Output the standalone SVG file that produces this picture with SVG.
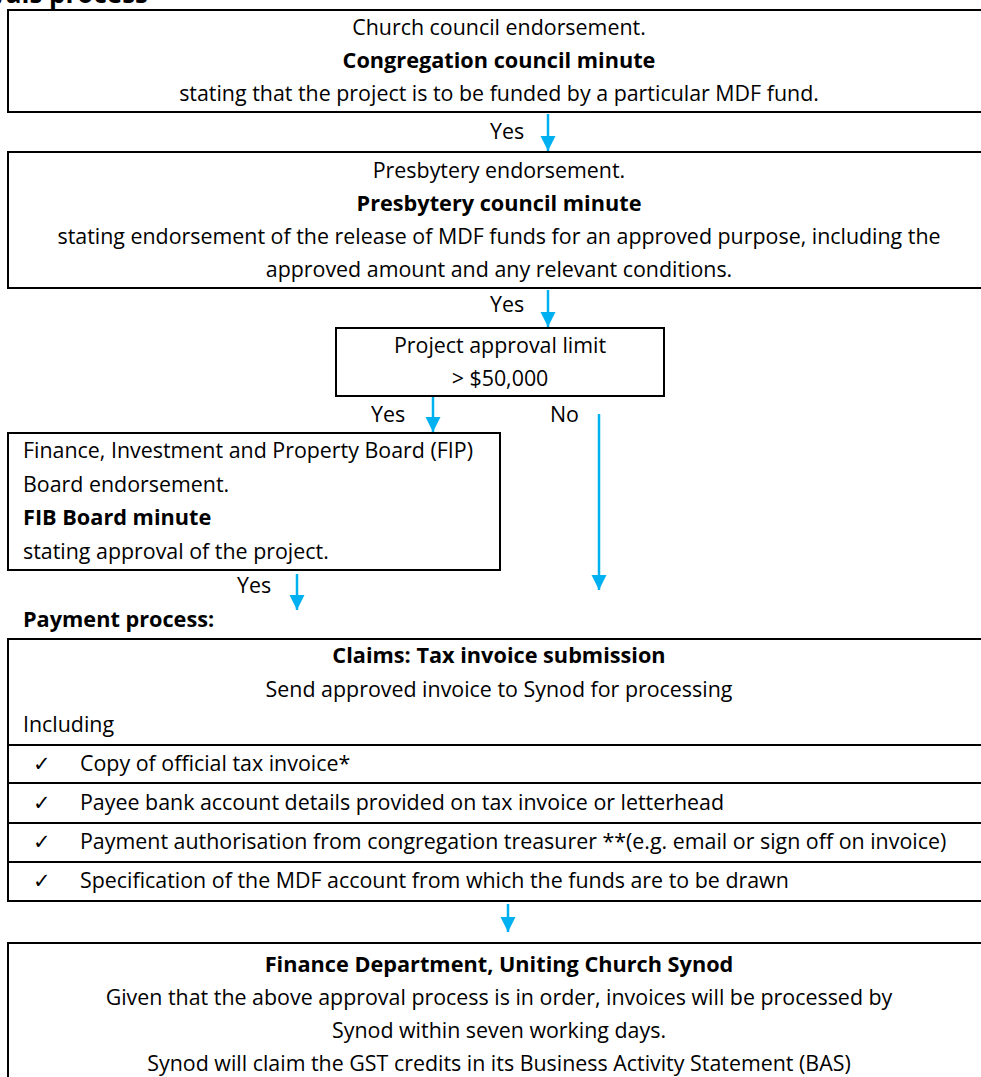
<svg xmlns="http://www.w3.org/2000/svg" width="981" height="1077" viewBox="0 0 981 1077">
<style>
text{font-family:"Open Sans","Noto Sans","Liberation Sans",sans-serif;font-size:21.4px;fill:#000}
.b{font-weight:bold;font-size:21.7px}
.c{text-anchor:middle}
.box{fill:#fff;stroke:#000;stroke-width:2}
.row{stroke:#000;stroke-width:2}
.arr{stroke:#00B0F0;stroke-width:2.5;fill:none;marker-end:url(#ah)}
</style>
<defs>
<marker id="ah" markerUnits="userSpaceOnUse" markerWidth="15" markerHeight="16" refX="15" refY="7.5" orient="auto" viewBox="0 0 15 15">
<path d="M0,0 L15,7.5 L0,15 z" fill="#00B0F0"/>
</marker>
</defs>
<rect width="981" height="1077" fill="#fff"/>
<text class="b" x="148" y="3" text-anchor="end" style="font-size:26px">Approvals process</text>

<g id="church">
<rect class="box" x="8" y="10" width="1000" height="102"/>
<text class="c" x="499" y="35">Church council endorsement.</text>
<text class="c b" x="499" y="68">Congregation council minute</text>
<text class="c" x="499" y="101">stating that the project is to be funded by a particular MDF fund.</text>
</g>

<g id="presbytery">
<rect class="box" x="8" y="152" width="1000" height="136"/>
<text class="c" x="499" y="178">Presbytery endorsement.</text>
<text class="c b" x="499" y="211">Presbytery council minute</text>
<text class="c" x="499" y="244">stating endorsement of the release of MDF funds for an approved purpose, including the</text>
<text class="c" x="499" y="277">approved amount and any relevant conditions.</text>
</g>

<g id="limit">
<rect class="box" x="336" y="328" width="328" height="68"/>
<text class="c" x="500" y="353">Project approval limit</text>
<text class="c" x="500" y="386">&gt; $50,000</text>
</g>

<g id="fip">
<rect class="box" x="8" y="433" width="492" height="137"/>
<text x="23" y="458">Finance, Investment and Property Board (FIP)</text>
<text x="23" y="492">Board endorsement.</text>
<text class="b" x="23" y="525">FIB Board minute</text>
<text x="23" y="559">stating approval of the project.</text>
</g>

<g id="payment-heading">
<text class="b" x="23" y="627">Payment process:</text>
</g>

<g id="claims">
<rect class="box" x="8" y="639" width="1000" height="262"/>
<line class="row" x1="8" y1="745" x2="1000" y2="745"/>
<line class="row" x1="8" y1="783" x2="1000" y2="783"/>
<line class="row" x1="8" y1="823" x2="1000" y2="823"/>
<line class="row" x1="8" y1="862" x2="1000" y2="862"/>
<text class="c b" x="499" y="663">Claims: Tax invoice submission</text>
<text class="c" x="499" y="697">Send approved invoice to Synod for processing</text>
<text x="23" y="732">Including</text>
<text x="33" y="771">✓</text>
<text x="80" y="771">Copy of official tax invoice*</text>
<text x="33" y="810">✓</text>
<text x="80" y="810">Payee bank account details provided on tax invoice or letterhead</text>
<text x="33" y="849">✓</text>
<text x="80" y="849">Payment authorisation from congregation treasurer **(e.g. email or sign off on invoice)</text>
<text x="33" y="888">✓</text>
<text x="80" y="888">Specification of the MDF account from which the funds are to be drawn</text>
</g>

<g id="finance">
<rect class="box" x="8" y="943" width="1000" height="160"/>
<text class="c b" x="499" y="972">Finance Department, Uniting Church Synod</text>
<text class="c" x="499" y="1005">Given that the above approval process is in order, invoices will be processed by</text>
<text class="c" x="499" y="1038">Synod within seven working days.</text>
<text class="c" x="499" y="1071">Synod will claim the GST credits in its Business Activity Statement (BAS)</text>
</g>

<g id="connectors">
<line class="arr" x1="548" y1="114" x2="548" y2="151"/>
<text x="490" y="139">Yes</text>
<line class="arr" x1="548" y1="290" x2="548" y2="327"/>
<text x="490" y="312">Yes</text>
<line class="arr" x1="433" y1="397" x2="433" y2="432"/>
<text x="371" y="422">Yes</text>
<line class="arr" x1="599" y1="414" x2="599" y2="590"/>
<text x="550" y="422">No</text>
<line class="arr" x1="297" y1="574" x2="297" y2="610"/>
<text x="237" y="593">Yes</text>
<line class="arr" x1="508" y1="904" x2="508" y2="932"/>
</g>
</svg>
